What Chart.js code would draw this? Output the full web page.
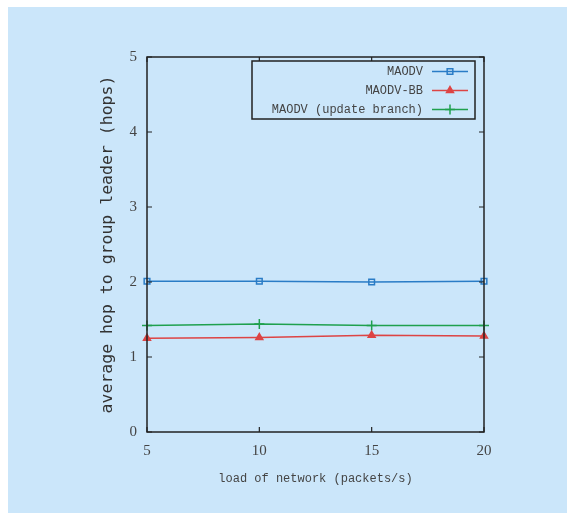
<!DOCTYPE html>
<html><head><meta charset="utf-8">
<script src="https://cdn.jsdelivr.net/npm/chart.js@4/dist/chart.umd.min.js"></script>
<style>html,body{margin:0;padding:0;background:#fff;}#wrap{width:567px;height:513px;}</style>
</head><body><div id="wrap"><canvas id="c" width="567" height="513"></canvas></div>
<script>
const loads = [5, 10, 15, 20];
const seriesNames = ['MAODV', 'MAODV-BB', 'MAODV (update branch)'];
const maodv = [2.01, 2.01, 2.0, 2.01];
const maodvBB = [1.25, 1.26, 1.29, 1.28];
const maodvUpd = [1.42, 1.44, 1.42, 1.42];
const xTicks = [5, 10, 15, 20];
const yTicks = [0, 1, 2, 3, 4, 5];
const xTitle = 'load of network (packets/s)';
const yTitle = 'average hop to group leader (hops)';

const colors = ['#2a7cc6', '#dd4444', '#1fa04e'];
const styles = ['rect', 'triangle', 'cross'];
const values = [maodv, maodvBB, maodvUpd];

const datasets = seriesNames.map((n, i) => ({
  label: n,
  data: loads.map((x, j) => ({x: x, y: values[i][j]})),
  borderColor: colors[i],
  backgroundColor: i === 0 ? 'rgba(0,0,0,0)' : colors[i],
  pointBorderColor: colors[i],
  pointBackgroundColor: i === 0 ? 'rgba(0,0,0,0)' : colors[i],
  pointStyle: styles[i],
  pointRadius: i === 2 ? 5 : 4,
  pointBorderWidth: 1.5,
  borderWidth: 1.6,
  tension: 0,
  fill: false,
  clip: false
}));

const bgPlugin = {
  id: 'bg',
  beforeDraw(chart) {
    const ctx = chart.ctx;
    ctx.save();
    ctx.fillStyle = '#ffffff';
    ctx.fillRect(0, 0, chart.width, chart.height);
    ctx.fillStyle = '#cbe6fa';
    ctx.fillRect(8, 7, chart.width - 8, chart.height - 7);
    ctx.restore();
  }
};

const framePlugin = {
  id: 'frame',
  afterDatasetsDraw(chart) {
    const ctx = chart.ctx;
    const a = chart.chartArea;
    const xs = chart.scales.x, ys = chart.scales.y;
    ctx.save();
    ctx.strokeStyle = '#222';
    ctx.lineWidth = 1.5;
    ctx.strokeRect(a.left, a.top, a.right - a.left, a.bottom - a.top);
    ctx.lineWidth = 1.2;
    ctx.beginPath();
    xTicks.forEach(v => {
      const px = xs.getPixelForValue(v);
      ctx.moveTo(px, a.bottom); ctx.lineTo(px, a.bottom - 5);
      ctx.moveTo(px, a.top); ctx.lineTo(px, a.top + 5);
    });
    yTicks.forEach(v => {
      const py = ys.getPixelForValue(v);
      ctx.moveTo(a.left, py); ctx.lineTo(a.left + 5, py);
      ctx.moveTo(a.right, py); ctx.lineTo(a.right - 5, py);
    });
    ctx.stroke();

    // legend
    const bx = 252, by = 61, bw = 223, bh = 58;
    ctx.fillStyle = '#cbe6fa';
    ctx.fillRect(bx, by, bw, bh);
    ctx.strokeStyle = '#222';
    ctx.lineWidth = 1.5;
    ctx.strokeRect(bx, by, bw, bh);
    ctx.font = '12px "Liberation Mono", monospace';
    ctx.textAlign = 'right';
    ctx.textBaseline = 'middle';
    chart.data.datasets.forEach((ds, i) => {
      const y = 71.5 + i * 19;
      ctx.fillStyle = '#444';
      ctx.fillText(ds.label, 423, y);
      ctx.strokeStyle = ds.borderColor;
      ctx.lineWidth = 1.6;
      ctx.beginPath(); ctx.moveTo(432, y); ctx.lineTo(468, y); ctx.stroke();
      ctx.fillStyle = ds.pointBackgroundColor;
      ctx.strokeStyle = ds.borderColor;
      ctx.lineWidth = 1.5;
      Chart.helpers.drawPoint(ctx, {pointStyle: ds.pointStyle, radius: ds.pointRadius, rotation: 0, borderWidth: 1.5}, 450, y);
    });
    ctx.restore();
  }
};

new Chart(document.getElementById('c'), {
  type: 'line',
  data: {datasets: datasets},
  plugins: [bgPlugin, framePlugin],
  options: {
    responsive: false,
    animation: false,
    layout: {padding: {left: 0, top: 57, right: 83, bottom: 0}},
    plugins: {legend: {display: false}, tooltip: {enabled: false}},
    scales: {
      x: {
        type: 'linear', min: 5, max: 20,
        afterBuildTicks(s) { s.ticks = xTicks.map(v => ({value: v})); },
        afterFit(s) { s.height = 81; },
        grid: {display: false, drawTicks: false},
        border: {display: false},
        ticks: {padding: 10, color: '#444', font: {family: '"Liberation Serif", serif', size: 15}, maxRotation: 0},
        title: {display: true, text: xTitle, color: '#444', font: {family: '"Liberation Mono", monospace', size: 12}, padding: {top: 0, bottom: 27}}
      },
      y: {
        type: 'linear', min: 0, max: 5,
        afterBuildTicks(s) { s.ticks = yTicks.map(v => ({value: v})); },
        afterFit(s) { s.width = 147; },
        grid: {display: false, drawTicks: false},
        border: {display: false},
        ticks: {padding: 10, color: '#444', font: {family: '"Liberation Serif", serif', size: 15}},
        title: {display: true, text: yTitle, color: '#333', font: {family: '"DejaVu Sans Mono", monospace', size: 16.5}, padding: {top: 98, bottom: 0}}
      }
    }
  }
});
</script>
</body></html>
